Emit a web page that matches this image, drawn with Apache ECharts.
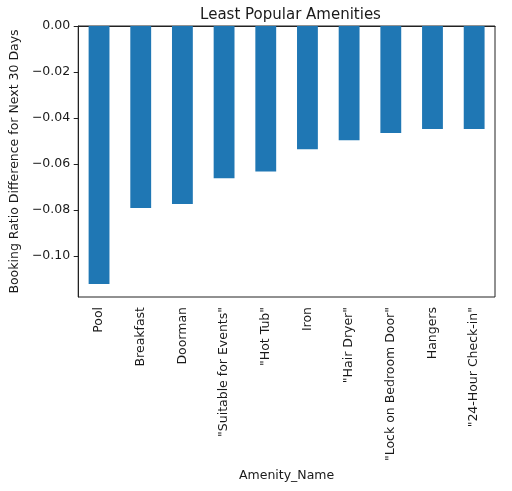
<!DOCTYPE html>
<html>
<head>
<meta charset="utf-8">
<script src="https://cdn.jsdelivr.net/npm/echarts@6/dist/echarts.min.js"></script>
<style>
  html, body { margin: 0; padding: 0; background: #fff; }
  #chart { width: 512px; height: 491px; }
</style>
</head>
<body>
<div id="chart"></div>
<script>
// amenities, least popular first
const amenities = ['Pool', 'Breakfast', 'Doorman', '"Suitable for Events"', '"Hot Tub"', 'Iron',
    '"Hair Dryer"', '"Lock on Bedroom Door"', 'Hangers', '"24-Hour Check-in"'];
const ratioDiff = [-0.1122, -0.0791, -0.0774, -0.0662, -0.0633, -0.0536, -0.0497, -0.0465, -0.0448, -0.0448];
const yTicks = [0, -0.02, -0.04, -0.06, -0.08, -0.10];

const font = 'DejaVu Sans';
const fmt = v => (v < 0 ? '\u2212' : '') + Math.abs(v).toFixed(2);

const chart = echarts.init(document.getElementById('chart'));
chart.setOption({
    animation: false,
    backgroundColor: '#fff',
    title: {
        text: 'Least Popular Amenities',
        left: 285.5, textAlign: 'center', top: 3,
        textStyle: { fontFamily: font, fontSize: 15, fontWeight: 'normal', color: '#1a1a1a' }
    },
    grid: { left: 76, right: 17, top: 26, bottom: 194, show: true, borderColor: '#222', borderWidth: 1 },
    xAxis: {
        type: 'category',
        data: amenities,
        name: 'Amenity_Name',
        nameLocation: 'middle',
        nameGap: 165,
        nameTextStyle: { fontFamily: font, fontSize: 12.5, color: '#1a1a1a' },
        axisLine: { lineStyle: { color: '#222', width: 1 } },
        axisTick: { alignWithLabel: true, length: 4.5, lineStyle: { color: '#222' } },
        axisLabel: { rotate: 90, margin: 10, interval: 0, fontFamily: font, fontSize: 12.5, color: '#1a1a1a' }
    },
    yAxis: {
        type: 'value',
        min: -0.1178, max: 0,
        name: 'Booking Ratio Difference for Next 30 Days',
        nameLocation: 'middle',
        nameGap: 56,
        nameTextStyle: { fontFamily: font, fontSize: 12.5, color: '#1a1a1a' },
        axisLine: { show: true, lineStyle: { color: '#222', width: 1 } },
        axisTick: { show: true, customValues: yTicks, length: 4.5, lineStyle: { color: '#222' } },
        axisLabel: { customValues: yTicks, formatter: fmt, margin: 8, fontFamily: font, fontSize: 12.5, color: '#1a1a1a' },
        splitLine: { show: false }
    },
    series: [{
        type: 'bar',
        data: ratioDiff,
        barWidth: '50%',
        itemStyle: { color: '#1f77b4' }
    }]
});
</script>
</body>
</html>
